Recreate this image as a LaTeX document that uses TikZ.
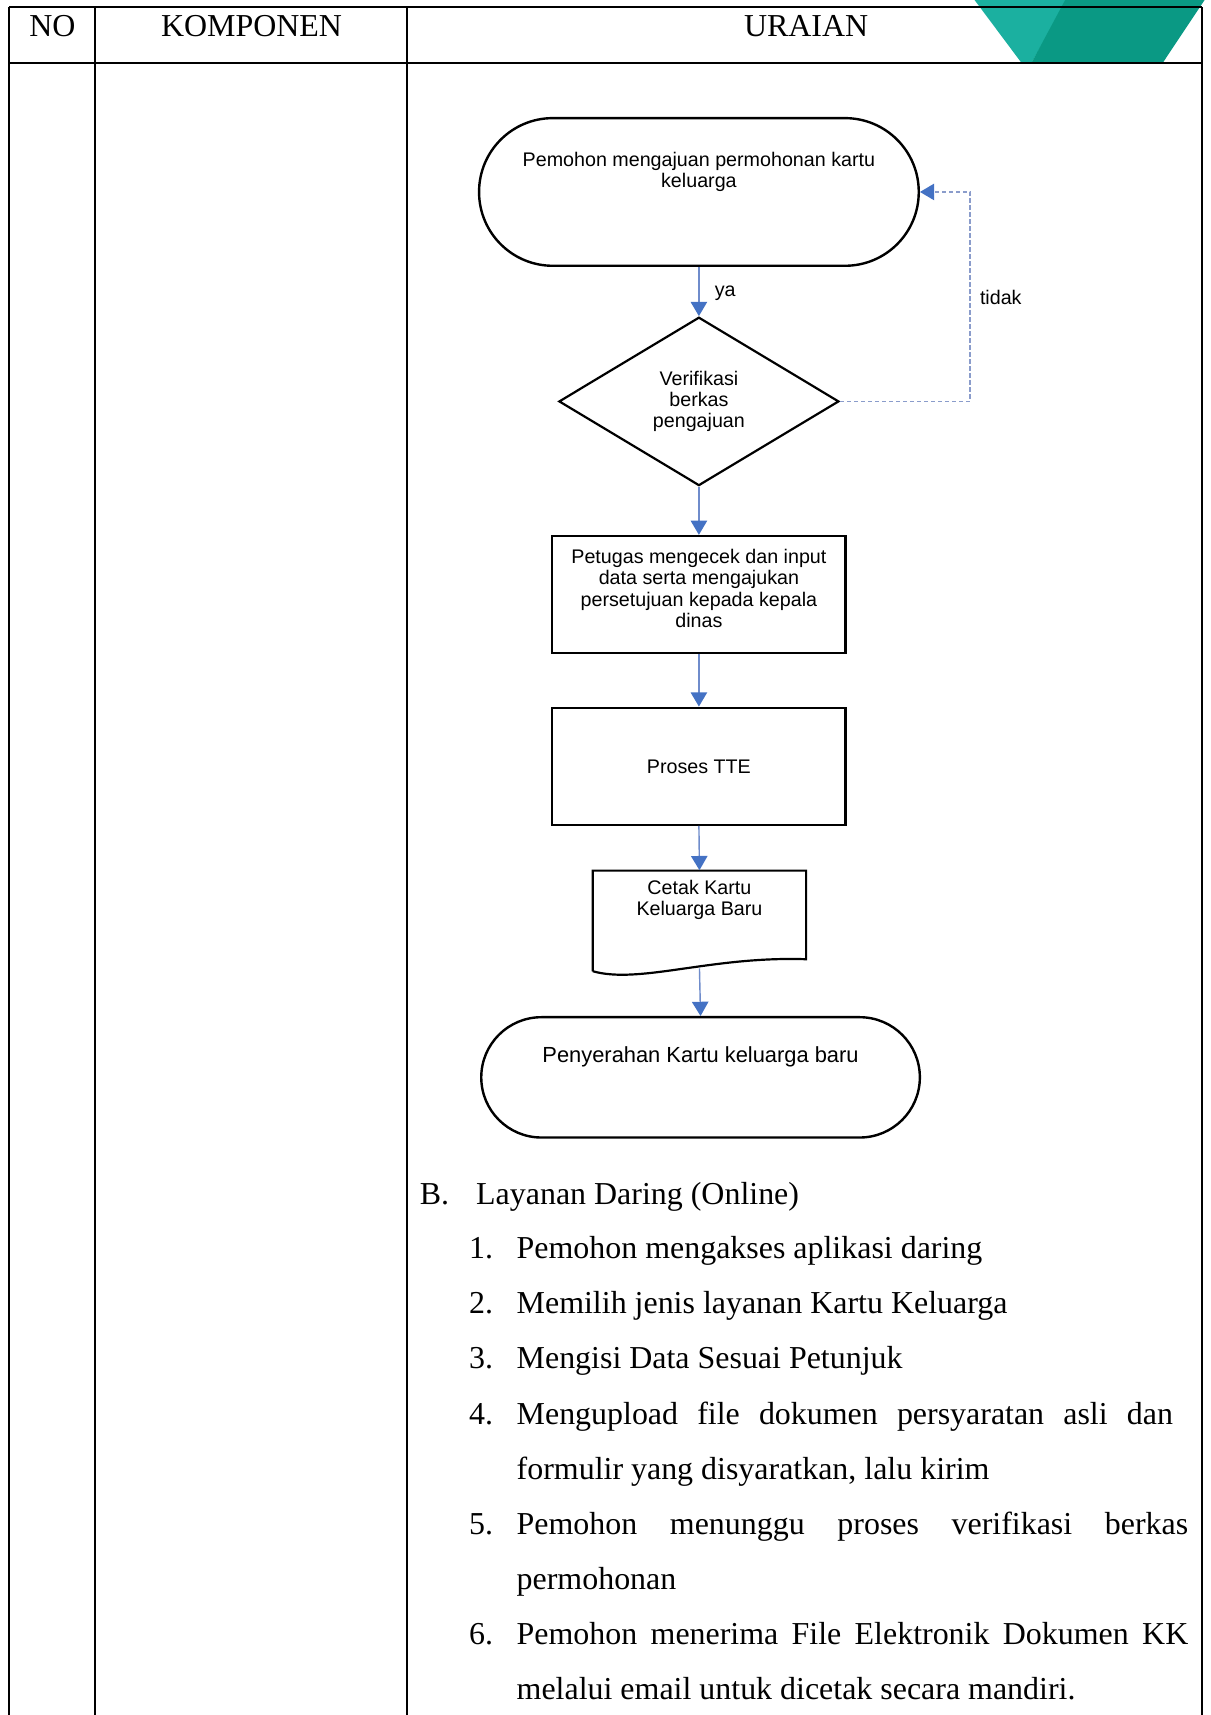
\documentclass[tikz,border=0pt]{standalone}
\usepackage{fontspec}
\setmainfont{Liberation Serif}
\newfontfamily\flowfont{Liberation Sans}
\usetikzlibrary{arrows.meta,shapes.geometric}
\definecolor{arrowblue}{HTML}{4472C4}
\definecolor{linkblue}{HTML}{6F8CCB}
\definecolor{loopblue}{HTML}{8A9CCB}
\definecolor{tealA}{HTML}{1BB0A0}
\definecolor{tealB}{HTML}{0A9984}

\begin{document}
\begin{tikzpicture}[x=0.5pt,y=-0.5pt,
  rule/.style={line width=1pt},
  head/.style={font=\fontsize{14.6}{17}\selectfont, anchor=base, inner sep=0pt},
  body/.style={font=\fontsize{14.6}{17}\selectfont, anchor=base west, inner sep=0pt},
  term/.style={draw, line width=1.1pt, rounded corners=#1, inner sep=0pt},
  procbox/.style={draw, line width=1pt, minimum width=134pt, minimum height=53.5pt, inner sep=0pt},
  ftext/.style={font=\flowfont\fontsize{9}{9.8}\selectfont, align=center, inner sep=0pt},
  flow/.style={draw=linkblue, line width=0.65pt, -{Triangle[width=7.5pt,length=6.5pt,color=arrowblue]}},
  back/.style={draw=loopblue, line width=0.65pt, dash pattern=on 1.9pt off 1.3pt, -{Triangle[width=7.5pt,length=6.5pt,color=arrowblue]}},
]
\useasboundingbox (0,0) rectangle (1107,1568);

% corner emblem
\fill[tealA] (888,-4) -- (978,-4) -- (943,57.6) -- (934,57.6) -- cycle;
\fill[tealB] (976,-4) -- (1104,-4) -- (1063,57.6) -- (943,57.6) -- cycle;

% table grid
\draw[rule] (8,6.5) -- (1099,6.5);
\draw[rule] (8,57.5) -- (1099,57.5);
\draw[rule] (8,6.5) -- (8,1568);
\draw[rule] (87,6.5) -- (87,1568);
\draw[rule] (372,6.5) -- (372,1568);
\draw[rule] (1099,6.5) -- (1099,1568);

% header
\node[head] (hno) at (48,33) {NO};
\node[head] (hkomp) at (230,33) {KOMPONEN};
\node[head] (hura) at (737,33) {URAIAN};

% flowchart shapes
\node[term=33.7pt, minimum width=201pt, minimum height=67.5pt] (t1) at (639,175.5) {};
\node[ftext] (t1txt) at (639,157) {Pemohon mengajuan permohonan kartu\\keluarga};

\node[draw, diamond, line width=1pt, minimum width=128pt, minimum height=77pt, inner sep=0pt] (dia) at (639,367) {};
\node[ftext] (diatxt) at (639,367) {Verifikasi\\berkas\\pengajuan};

\node[procbox] (b1) at (639,543.5) {};
\node[ftext] (b1txt) at (639,538) {Petugas mengecek dan input\\data serta mengajukan\\persetujuan kepada kepala\\dinas};

\node[procbox] (b2) at (639,700.5) {};
\node[ftext] (b2txt) at (639,701) {Proses TTE};

\node[minimum width=97.5pt, minimum height=44.5pt, inner sep=0pt] (doc) at (639.5,840.5) {};
\draw[line width=1pt] (542,888) -- (542,796) -- (737,796) -- (737,877)
  .. controls (650,874) and (585,900) .. (542,888);
\node[ftext] (doctxt) at (639.5,823) {Cetak Kartu\\Keluarga Baru};

\node[term=27.5pt, minimum width=200.5pt, minimum height=55pt] (t2) at (640.5,985) {};
\node[ftext, font=\flowfont\fontsize{10}{11}\selectfont] (t2txt) at (640.5,966) {Penyerahan Kartu keluarga baru};

% connectors
\draw[flow] (t1.south) -- (dia.north);
\node[ftext] (ya) at (663,268) {ya};
\draw[flow] (dia.south) -- (b1.north);
\draw[flow] (b1.south) -- (b2.north);
\draw[flow] (b2.south) -- (doc.north);
\draw[flow] (doc.south) -- (t2.north);
\coordinate (loop) at (887,367);
\draw[back] (dia.east) -- (loop) |- (t1.east);
\node[ftext] (tidak) at (915,272) {tidak};

% online service steps
\node[body] (bl) at (383.5,1101) {B.};
\node[body] (bt) at (435,1101) {Layanan Daring (Online)};

\node[body] (n1) at (428.5,1151) {1.};
\node[body] (s1) at (472,1151) {Pemohon mengakses aplikasi daring};
\node[body] (n2) at (428.5,1201) {2.};
\node[body] (s2) at (472,1201) {Memilih jenis layanan Kartu Keluarga};
\node[body] (n3) at (428.5,1251.5) {3.};
\node[body] (s3) at (472,1251.5) {Mengisi Data Sesuai Petunjuk};
\node[body] (n4) at (428.5,1302) {4.};
\node[body] (s4) at (472,1302) {\makebox[300pt][s]{Mengupload file dokumen persyaratan asli dan}};
\node[body] (s4b) at (472,1352.5) {formulir yang disyaratkan, lalu kirim};
\node[body] (n5) at (428.5,1402.5) {5.};
\node[body] (s5) at (472,1402.5) {\makebox[307pt][s]{Pemohon menunggu proses verifikasi berkas}};
\node[body] (s5b) at (472,1453) {permohonan};
\node[body] (n6) at (428.5,1503.5) {6.};
\node[body] (s6) at (472,1503.5) {\makebox[307pt][s]{Pemohon menerima File Elektronik Dokumen KK}};
\node[body] (s6b) at (472,1554) {melalui email untuk dicetak secara mandiri.};
\end{tikzpicture}
\end{document}
